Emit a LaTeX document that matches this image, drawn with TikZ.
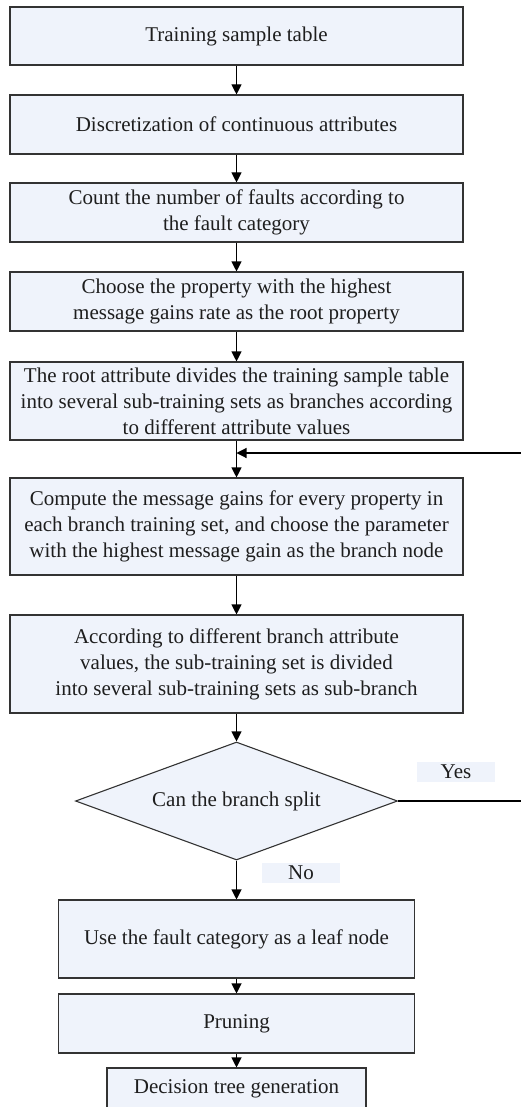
\documentclass[tikz,border=0pt]{standalone}
\usepackage{fontspec}
\setmainfont{Liberation Serif}
\usepackage{tikz}
\usetikzlibrary{arrows.meta,positioning,shapes.geometric}
\definecolor{boxfill}{HTML}{EFF3FB}
\definecolor{boxline}{HTML}{333333}
\definecolor{textgray}{HTML}{1E1E1E}
\newcommand{\flowfont}{\fontsize{21}{26}\selectfont\color{textgray}}

\begin{document}
\begin{tikzpicture}[x=1pt,y=-1pt]
                \tikzstyle{every path}=[line width=1.1pt]
                \tikzstyle{flowbox}=[draw=boxline,fill=boxfill,minimum width=453pt,
                inner sep=0pt,align=center,font=\flowfont]
                \tikzstyle{decision}=[diamond,draw=boxline,fill=boxfill,inner sep=0pt,
                minimum width=322pt,minimum height=118pt,font=\flowfont]
                \tikzstyle{answer}=[fill=boxfill,minimum width=78pt,minimum height=20pt,
                inner sep=0pt,font=\flowfont]
                \tikzstyle{flow}=[->,>={Triangle[length=10pt,width=10pt]},black]
                
                \useasboundingbox (0,0) rectangle (521,1107);
                
                %% Draw the upper boxes
                \node [flowbox,minimum height=58pt] at (236.5,36) (table) {Training sample table};
                \node [flowbox,minimum height=59pt] at (236.5,124.5) (discrete)
                        {Discretization of continuous attributes};
                \node [flowbox,minimum height=59pt] at (236.5,212.5) (count)
                        {Count the number of faults according to\\the fault category};
                \node [flowbox,minimum height=59pt] at (236.5,301.5) (root)
                        {Choose the property with the highest\\message gains rate as the root property};
                \node [flowbox,minimum height=78pt] at (236.5,401) (divide)
                        {The root attribute divides the training sample table\\
                         into several sub-training sets as branches according\\
                         to different attribute values};
                \node [flowbox,minimum height=97pt] at (236.5,526.5) (compute)
                        {Compute the message gains for every property in\\
                         each branch training set, and choose the parameter\\
                         with the highest message gain as the branch node};
                \node [flowbox,minimum height=98pt] at (236.5,664) (subbranch)
                        {According to different branch attribute\\
                         values, the sub-training set is divided\\
                         into several sub-training sets as sub-branch};
                
                %% Decision
                \node [decision] at (236.5,801) (split) {\makebox[0pt]{Can the branch split}};
                \node [answer] at (456,772) (yes) {Yes};
                \node [answer] at (301,873) (no) {No};
                
                %% Draw the lower boxes
                \node [flowbox,minimum width=356pt,minimum height=78pt] at (236.5,939) (leaf)
                        {Use the fault category as a leaf node};
                \node [flowbox,minimum width=356pt,minimum height=59pt] at (236.5,1023.5) (pruning)
                        {Pruning};
                \node [flowbox,minimum width=259pt,minimum height=42pt] at (236.5,1089) (tree)
                        {Decision tree generation};
                
                %% Link the boxes
                \foreach \a/\b in {table/discrete,discrete/count,count/root,root/divide,
                        divide/compute,compute/subbranch,subbranch/split,split/leaf,
                        leaf/pruning,pruning/tree}
                    \draw [flow] (\a.south) -- (\b.north);
                
                % Yes branch goes back up the right side
                \coordinate (yesout) at (521,801);
                \coordinate (backin) at (521,453);
                \coordinate (join) at (236.5,453);
                \draw (split.east) -- (yesout);
                \draw [flow] (backin) -- (join);
                \end{tikzpicture}
\end{document}
